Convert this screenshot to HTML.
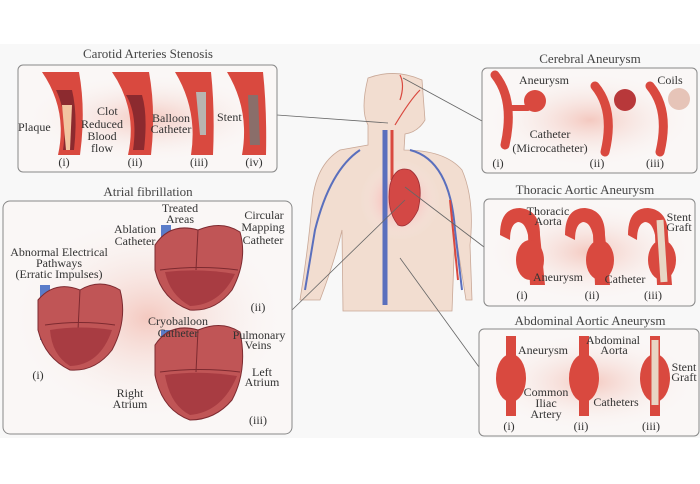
<!DOCTYPE html>
<html><head><meta charset="utf-8"><style>
html,body{margin:0;padding:0;background:#fff}
svg{display:block}
text{font-family:"Liberation Serif",serif;font-size:12px;fill:#333}
.t{font-size:13px;fill:#444}
.box{fill:#faf7f6;stroke:#888;stroke-width:1}
.ln{stroke:#666;stroke-width:0.8;fill:none}
.v{fill:none;stroke:#d9493f;stroke-linecap:round}
.hv{fill:#c05556;stroke:#7d2a30;stroke-width:1}
</style></head><body>
<svg width="700" height="484" viewBox="0 0 700 484">
<defs>
<radialGradient id="glow" cx="50%" cy="50%" r="50%"><stop offset="0" stop-color="#f4c9c0"/><stop offset="1" stop-color="#faf7f6" stop-opacity="0"/></radialGradient>
<radialGradient id="hg" cx="50%" cy="50%" r="50%"><stop offset="0" stop-color="#ff8b8b"/><stop offset="1" stop-color="#f7f5f5" stop-opacity="0"/></radialGradient>
</defs>
<rect x="0" y="44" width="700" height="394" fill="#f8f8f8"/>

<!-- Body -->
<g>
<path d="M368,78 Q395,68 422,80 L425,120 Q418,132 405,134 L404,150 Q445,150 462,170 Q475,200 470,245 L472,300 L466,300 Q458,250 455,230 L452,311 L343,311 L342,230 Q335,260 320,300 L300,300 Q308,250 312,205 Q315,165 340,150 L368,145 L368,125 Q360,110 368,78Z" fill="#f2ddd0" stroke="#c9a897" stroke-width="0.8"/>
<circle cx="400" cy="200" r="40" fill="url(#hg)"/>
<path d="M385,130 L385,305" stroke="#5a6fbd" stroke-width="5" fill="none"/>
<path d="M360,150 Q330,170 315,230 L305,290" stroke="#5a6fbd" stroke-width="2" fill="none"/>
<path d="M410,150 Q450,160 455,230 L462,290" stroke="#5a6fbd" stroke-width="2" fill="none"/>
<path d="M392,130 L392,180" stroke="#d9493f" stroke-width="3" fill="none"/>
<path d="M400,100 Q405,85 400,75 M395,125 Q410,100 420,90" stroke="#d9493f" stroke-width="1.2" fill="none"/>
<path d="M450,200 L458,280" stroke="#d9493f" stroke-width="2" fill="none"/>
<path d="M390,185 Q395,165 410,170 Q425,180 418,210 Q408,230 398,225 Q386,210 390,185Z" fill="#d34845" stroke="#9e2f35" stroke-width="0.8"/>
</g>

<!-- connectors -->
<path class="ln" d="M277,115 L388,123"/>
<path class="ln" d="M403,78 L482,121"/>
<path class="ln" d="M405,187 L484,247"/>
<path class="ln" d="M400,258 L479,367"/>
<path class="ln" d="M292,310 L405,200"/>

<!-- Carotid -->
<text class="t" x="148" y="58" text-anchor="middle">Carotid Arteries Stenosis</text>
<rect class="box" x="18" y="65" width="259" height="107" rx="5"/>
<ellipse cx="148" cy="118" rx="125" ry="45" fill="url(#glow)"/>
<g>
<path d="M42,72 Q68,110 58,155 L80,155 Q86,110 79,72Z" fill="#d9493f"/>
<path d="M56,90 Q68,115 63,150 L74,150 Q78,115 72,90Z" fill="#8c2a2f"/>
<path d="M62,105 L66,150 L70,150 L72,105Z" fill="#f2c5a0"/>
<path d="M112,72 Q138,110 128,155 L151,155 Q156,110 149,72Z" fill="#d9493f"/>
<path d="M126,95 Q138,115 133,150 L144,150 Q148,115 142,95Z" fill="#8c2a2f"/>
<path d="M175,72 Q198,110 191,155 L213,155 Q215,110 211,72Z" fill="#d9493f"/>
<path d="M196,92 L200,135 L206,135 L206,92Z" fill="#b8b4b1"/>
<path d="M227,72 Q250,110 242,155 L266,155 Q267,110 263,72Z" fill="#d9493f"/>
<path d="M248,95 L250,145 L260,145 L258,95Z" fill="#8a6e6a"/>
</g>
<text x="18" y="131">Plaque</text>
<text x="102" y="128" text-anchor="middle">Reduced</text>
<text x="102" y="140" text-anchor="middle">Blood</text>
<text x="102" y="152" text-anchor="middle">flow</text>
<text x="97" y="115">Clot</text>
<text x="171" y="122" text-anchor="middle">Balloon</text>
<text x="171" y="133" text-anchor="middle">Catheter</text>
<text x="217" y="121">Stent</text>
<text x="64" y="166" text-anchor="middle">(i)</text>
<text x="135" y="166" text-anchor="middle">(ii)</text>
<text x="199" y="166" text-anchor="middle">(iii)</text>
<text x="254" y="166" text-anchor="middle">(iv)</text>

<!-- Atrial -->
<text class="t" x="148" y="196" text-anchor="middle">Atrial fibrillation</text>
<rect class="box" x="3" y="201" width="289" height="233" rx="7"/>
<ellipse cx="148" cy="318" rx="140" ry="105" fill="url(#glow)"/>
<rect x="40" y="285" width="10" height="55" fill="#5a7cc9"/>
<path class="hv" d="M38,300 Q55,280 80,290 Q100,278 120,290 Q128,320 112,350 Q95,372 70,370 Q45,358 38,330Z"/>
<path d="M80,290 L78,330 M45,325 Q80,320 115,325" stroke="#7d2a30" fill="none"/>
<path d="M50,330 Q80,325 112,330 Q100,365 70,366 Q52,355 50,330Z" fill="#a83c42"/>
<rect x="161" y="225" width="10" height="60" fill="#5a7cc9"/>
<path class="hv" d="M155,245 Q170,222 198,230 Q222,220 240,232 Q248,260 232,290 Q215,312 190,310 Q162,300 155,270Z"/>
<path d="M198,230 L196,270 M160,270 Q200,265 238,270" stroke="#7d2a30" fill="none"/>
<path d="M165,272 Q200,268 235,274 Q220,305 190,306 Q170,295 165,272Z" fill="#a83c42"/>
<rect x="161" y="330" width="10" height="60" fill="#5a7cc9"/>
<path class="hv" d="M155,345 Q170,322 198,330 Q222,320 240,332 Q248,370 232,400 Q215,420 190,420 Q162,410 155,375Z"/>
<path d="M198,330 L196,372 M160,372 Q200,367 240,372" stroke="#7d2a30" fill="none"/>
<path d="M165,375 Q200,370 237,376 Q222,412 190,415 Q170,405 165,375Z" fill="#a83c42"/>
<text x="180" y="212" text-anchor="middle">Treated</text>
<text x="180" y="223" text-anchor="middle">Areas</text>
<text x="264" y="219" text-anchor="middle">Circular</text>
<text x="263" y="231" text-anchor="middle">Mapping</text>
<text x="263" y="244" text-anchor="middle">Catheter</text>
<text x="135" y="233" text-anchor="middle">Ablation</text>
<text x="135" y="245" text-anchor="middle">Catheter</text>
<text x="59" y="256" text-anchor="middle">Abnormal Electrical</text>
<text x="59" y="267" text-anchor="middle">Pathways</text>
<text x="59" y="278" text-anchor="middle">(Erratic Impulses)</text>
<text x="38" y="379" text-anchor="middle">(i)</text>
<text x="258" y="311" text-anchor="middle">(ii)</text>
<text x="178" y="325" text-anchor="middle">Cryoballoon</text>
<text x="178" y="337" text-anchor="middle">Catheter</text>
<text x="259" y="339" text-anchor="middle">Pulmonary</text>
<text x="258" y="349" text-anchor="middle">Veins</text>
<text x="262" y="376" text-anchor="middle">Left</text>
<text x="262" y="386" text-anchor="middle">Atrium</text>
<text x="130" y="397" text-anchor="middle">Right</text>
<text x="130" y="408" text-anchor="middle">Atrium</text>
<text x="258" y="424" text-anchor="middle">(iii)</text>

<!-- Cerebral -->
<text class="t" x="590" y="63" text-anchor="middle">Cerebral Aneurysm</text>
<rect class="box" x="482" y="68" width="215" height="105" rx="5"/>
<ellipse cx="590" cy="120" rx="105" ry="48" fill="url(#glow)"/>
<path class="v" d="M495,75 Q515,100 505,145" stroke-width="9"/><path class="v" d="M508,108 L528,108" stroke-width="6"/>
<circle cx="535" cy="101" r="11" fill="#d9493f"/>
<path class="v" d="M595,86 Q615,110 605,152" stroke-width="9"/><circle cx="625" cy="100" r="11" fill="#b8383a"/>
<path class="v" d="M650,86 Q670,110 660,152" stroke-width="9"/><circle cx="679" cy="99" r="11" fill="#e6c4b8"/>
<text x="544" y="84" text-anchor="middle">Aneurysm</text>
<text x="550" y="138" text-anchor="middle">Catheter</text>
<text x="550" y="152" text-anchor="middle">(Microcatheter)</text>
<text x="670" y="84" text-anchor="middle">Coils</text>
<text x="498" y="167" text-anchor="middle">(i)</text>
<text x="597" y="167" text-anchor="middle">(ii)</text>
<text x="655" y="167" text-anchor="middle">(iii)</text>

<!-- Thoracic -->
<text class="t" x="585" y="194" text-anchor="middle">Thoracic Aortic Aneurysm</text>
<rect class="box" x="484" y="199" width="211" height="107" rx="5"/>
<ellipse cx="590" cy="252" rx="105" ry="50" fill="url(#glow)"/>
<g fill="#d9493f">
<path d="M500,235 Q500,208 520,208 Q540,210 540,235 L545,285 L530,285 L528,235 Q525,222 518,222 Q510,224 510,240Z"/>
<ellipse cx="530" cy="260" rx="14" ry="20"/>
<path d="M565,235 Q565,208 585,208 Q605,210 605,235 L610,285 L595,285 L593,235 Q590,222 583,222 Q575,224 575,240Z"/>
<ellipse cx="600" cy="260" rx="14" ry="20"/>
<path d="M628,235 Q628,208 648,208 Q668,210 668,235 L672,285 L657,285 L655,235 Q652,222 645,222 Q637,224 637,240Z"/>
<ellipse cx="662" cy="260" rx="14" ry="20"/>
</g>
<path d="M660,220 L664,282" stroke="#e8d6c4" stroke-width="7"/>
<text x="548" y="215" text-anchor="middle">Thoracic</text>
<text x="548" y="225" text-anchor="middle">Aorta</text>
<text x="558" y="281" text-anchor="middle">Aneurysm</text>
<text x="625" y="283" text-anchor="middle">Catheter</text>
<text x="679" y="221" text-anchor="middle">Stent</text>
<text x="679" y="231" text-anchor="middle">Graft</text>
<text x="522" y="299" text-anchor="middle">(i)</text>
<text x="592" y="299" text-anchor="middle">(ii)</text>
<text x="653" y="299" text-anchor="middle">(iii)</text>

<!-- Abdominal -->
<text class="t" x="590" y="325" text-anchor="middle">Abdominal Aortic Aneurysm</text>
<rect class="box" x="479" y="329" width="220" height="107" rx="5"/>
<ellipse cx="590" cy="382" rx="108" ry="50" fill="url(#glow)"/>
<g fill="#d9493f">
<rect x="506" y="336" width="10" height="80"/><ellipse cx="511" cy="378" rx="15" ry="24"/>
<rect x="579" y="336" width="10" height="80"/><ellipse cx="584" cy="378" rx="15" ry="24"/>
<rect x="650" y="336" width="10" height="80"/><ellipse cx="655" cy="378" rx="15" ry="24"/>
</g>
<path d="M655,340 L655,405" stroke="#e8d6c4" stroke-width="7"/>
<text x="543" y="354" text-anchor="middle">Aneurysm</text>
<text x="613" y="344" text-anchor="middle">Abdominal</text>
<text x="614" y="354" text-anchor="middle">Aorta</text>
<text x="546" y="396" text-anchor="middle">Common</text>
<text x="546" y="407" text-anchor="middle">Iliac</text>
<text x="546" y="418" text-anchor="middle">Artery</text>
<text x="616" y="406" text-anchor="middle">Catheters</text>
<text x="684" y="371" text-anchor="middle">Stent</text>
<text x="684" y="381" text-anchor="middle">Graft</text>
<text x="509" y="430" text-anchor="middle">(i)</text>
<text x="581" y="430" text-anchor="middle">(ii)</text>
<text x="651" y="430" text-anchor="middle">(iii)</text>
</svg>
</body></html>
